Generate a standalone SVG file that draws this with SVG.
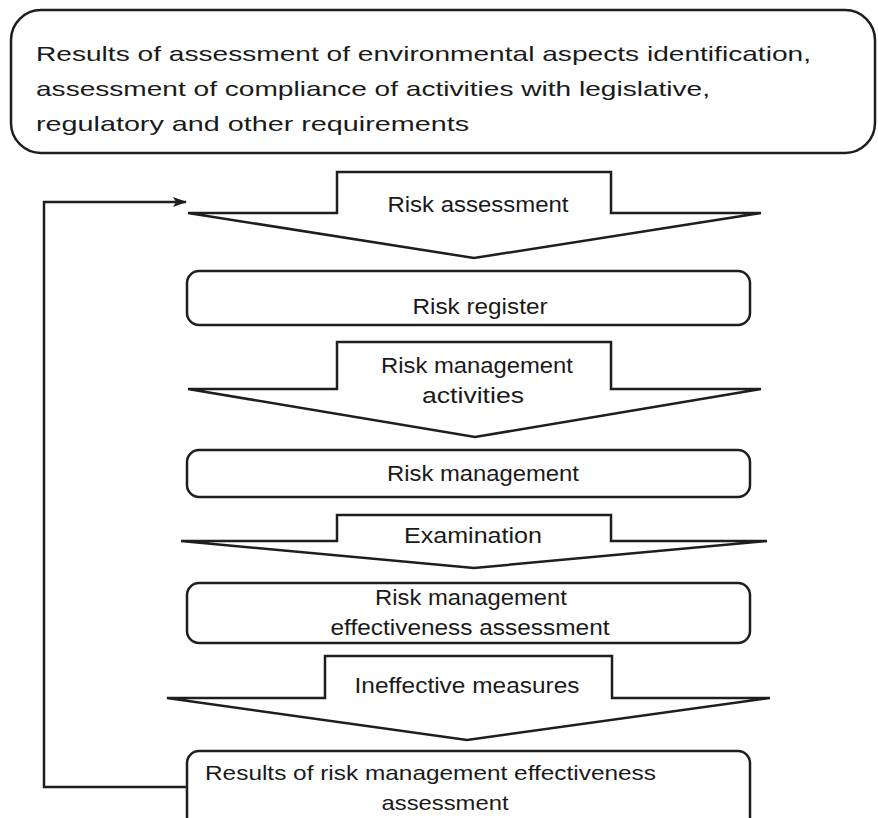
<svg xmlns="http://www.w3.org/2000/svg" width="878" height="818" viewBox="0 0 878 818">
  <defs>
    <style>
      .box { fill: #ffffff; stroke: #1e1e1e; stroke-width: 2.5; }
      .arrow { fill: #ffffff; stroke: #1e1e1e; stroke-width: 2.5; stroke-linejoin: miter; }
      .link { fill: none; stroke: #1e1e1e; stroke-width: 2.5; }
      text { font-family: "Liberation Sans", Arial, sans-serif; font-size: 22px; fill: #1a1a1a; }
      .lead { font-size: 21px; }
      .c { text-anchor: middle; }
    </style>
    <marker id="head" viewBox="0 0 14 10" refX="13" refY="5" markerWidth="14" markerHeight="10" markerUnits="userSpaceOnUse" orient="auto">
      <path d="M0,0 L14,5 L0,10 L3,5 Z" fill="#1e1e1e"/>
    </marker>
  </defs>

  <rect width="878" height="818" fill="#ffffff"/>

  <!-- source inputs -->
  <g id="inputs">
    <rect class="box" x="11" y="10" width="864" height="143" rx="30" ry="30"/>
    <text class="lead" x="36" y="61" textLength="775" lengthAdjust="spacingAndGlyphs">Results of assessment of environmental aspects identification,</text>
    <text class="lead" x="36" y="96" textLength="674" lengthAdjust="spacingAndGlyphs">assessment of compliance of activities with legislative,</text>
    <text class="lead" x="36" y="131" textLength="433" lengthAdjust="spacingAndGlyphs">regulatory and other requirements</text>
  </g>

  <!-- feedback loop -->
  <g id="connectors">
    <path class="link" d="M187,787 H44 V202 H186" marker-end="url(#head)"/>
  </g>

  <g id="risk-assessment">
    <polygon class="arrow" points="188,213 337,213 337,172 611,172 611,213 761,213 474,258"/>
    <text class="c" x="478" y="212" textLength="181" lengthAdjust="spacingAndGlyphs">Risk assessment</text>
  </g>

  <g id="risk-register">
    <rect class="box" x="187" y="271" width="563" height="54" rx="12" ry="12"/>
    <text class="c" x="480" y="314" textLength="135" lengthAdjust="spacingAndGlyphs">Risk register</text>
  </g>

  <g id="risk-management-activities">
    <polygon class="arrow" points="188,389 337,389 337,342 611,342 611,389 761,389 475,437"/>
    <text class="c" x="477" y="373" textLength="192" lengthAdjust="spacingAndGlyphs">Risk management</text>
    <text class="c" x="473" y="403" textLength="102" lengthAdjust="spacingAndGlyphs">activities</text>
  </g>

  <g id="risk-management">
    <rect class="box" x="187" y="450" width="563" height="47" rx="12" ry="12"/>
    <text class="c" x="483" y="481" textLength="192" lengthAdjust="spacingAndGlyphs">Risk management</text>
  </g>

  <g id="examination">
    <polygon class="arrow" points="181,541 337,541 337,515 611,515 611,541 767,541 474,568"/>
    <text class="c" x="473" y="543" textLength="138" lengthAdjust="spacingAndGlyphs">Examination</text>
  </g>

  <g id="effectiveness-assessment">
    <rect class="box" x="187" y="583" width="563" height="60" rx="12" ry="12"/>
    <text class="c" x="471" y="605" textLength="192" lengthAdjust="spacingAndGlyphs">Risk management</text>
    <text class="c" x="470" y="635" textLength="279" lengthAdjust="spacingAndGlyphs">effectiveness assessment</text>
  </g>

  <g id="ineffective-measures">
    <polygon class="arrow" points="167,698 325,698 325,656 612,656 612,698 770,698 467,740"/>
    <text class="c" x="467" y="693" textLength="225" lengthAdjust="spacingAndGlyphs">Ineffective measures</text>
  </g>

  <g id="assessment-results">
    <rect class="box" x="187" y="751" width="563" height="90" rx="12" ry="12"/>
    <text class="lead" x="205" y="780" textLength="451" lengthAdjust="spacingAndGlyphs">Results of risk management effectiveness</text>
    <text class="lead c" x="445" y="810" textLength="127" lengthAdjust="spacingAndGlyphs">assessment</text>
  </g>
</svg>
